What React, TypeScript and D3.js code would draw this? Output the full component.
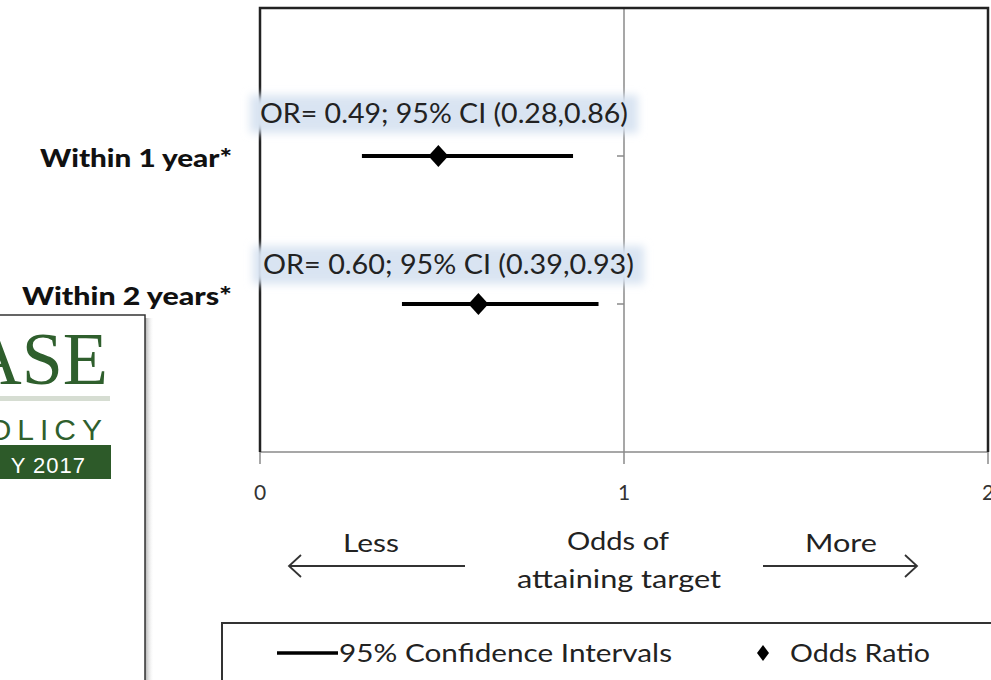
import React from "react";
import * as d3 from "d3";

// Forest plot: odds of attaining target
const categories = ["Within 1 year*", "Within 2 years*"];
const rowPos = [2, 1];
const oddsRatio = [0.49, 0.6];
const ciLower = [0.28, 0.39];
const ciUpper = [0.86, 0.93];
const xTicks = [0, 1, 2];
const yTicks = [1, 2, 3];

const W = 991;
const H = 680;
const FONT = "Lato, 'Open Sans', sans-serif";

export default function App() {
  const x = d3.scaleLinear().domain([0, 2]).range([260, 988]);
  const y = d3.scaleLinear().domain([0, 3]).range([452, 8]);
  const diamond = (cx: number, cy: number, hw: number, hh: number) =>
    `M${cx},${cy - hh}L${cx + hw},${cy}L${cx},${cy + hh}L${cx - hw},${cy}Z`;
  const labelWidths = [368, 371];
  const catWidths = [192, 210];

  return (
    <svg
      width={W}
      height={H}
      style={{ position: "absolute", left: 0, top: 0, background: "#fff" }}
      fontFamily={FONT}
    >
      <defs>
        <filter id="glow" x="-20%" y="-50%" width="140%" height="200%">
          <feGaussianBlur stdDeviation="4" />
        </filter>
        <linearGradient id="shadow" x1="0" x2="1" y1="0" y2="0">
          <stop offset="0" stopColor="#888" stopOpacity="0.7" />
          <stop offset="1" stopColor="#fff" stopOpacity="0" />
        </linearGradient>
      </defs>

      {/* plot frame */}
      <line x1={x(1)} x2={x(1)} y1={y(3)} y2={y(0)} stroke="#8a8a8a" strokeWidth={1.5} />
      {yTicks.map((t) => (
        <line key={t} x1={x(1) - 7} x2={x(1)} y1={y(t)} y2={y(t)} stroke="#8a8a8a" strokeWidth={1.5} />
      ))}
      <line x1={x(0)} x2={x(2)} y1={y(0)} y2={y(0)} stroke="#8a8a8a" strokeWidth={1.5} />
      {xTicks.map((t) => (
        <line key={t} x1={x(t)} x2={x(t)} y1={y(0)} y2={y(0) + 12} stroke="#8a8a8a" strokeWidth={1.5} />
      ))}
      <path
        d={`M${x(0)},${y(0)}V${y(3)}H${x(2)}V${y(0)}`}
        fill="none"
        stroke="#222"
        strokeWidth={2.5}
      />
      {xTicks.map((t) => (
        <text key={t} x={x(t)} y={500} fontSize={21} fill="#333" textAnchor="middle">
          {t}
        </text>
      ))}

      {/* category labels */}
      {categories.map((c, i) => (
        <text
          key={c}
          x={232 - catWidths[i]}
          y={y(rowPos[i]) + (i === 0 ? 11 : 1)}
          fontSize={25}
          fontWeight={900}
          fill="#111"
          textLength={catWidths[i]}
          lengthAdjust="spacingAndGlyphs"
        >
          {c}
        </text>
      ))}

      {/* value annotations */}
      {categories.map((c, i) => {
        const cy = y(rowPos[i]) - (i === 0 ? 42 : 39);
        const x0 = x(0) + (i === 0 ? 0 : 3);
        const txt = `OR= ${oddsRatio[i].toFixed(2)};  95% CI (${ciLower[i].toFixed(2)},${ciUpper[i].toFixed(2)})`;
        return (
          <g key={c}>
            <rect
              x={x0 - 10}
              y={cy - 19}
              width={labelWidths[i] + 20}
              height={38}
              fill="#d9e4f2"
              filter="url(#glow)"
            />
            <text
              x={x0}
              y={cy + 9}
              fontSize={26}
              fill="#222"
              textLength={labelWidths[i]}
              lengthAdjust="spacingAndGlyphs"
            >
              {txt}
            </text>
          </g>
        );
      })}

      {/* confidence intervals and odds ratios */}
      {categories.map((c, i) => (
        <g key={c}>
          <line
            x1={x(ciLower[i])}
            x2={x(ciUpper[i])}
            y1={y(rowPos[i])}
            y2={y(rowPos[i])}
            stroke="#000"
            strokeWidth={4}
          />
          <path d={diamond(x(oddsRatio[i]), y(rowPos[i]), 10, 11)} fill="#000" />
        </g>
      ))}

      {/* direction annotation */}
      <text x={371} y={552} fontSize={25} fill="#222" textAnchor="middle" textLength={56} lengthAdjust="spacingAndGlyphs">
        Less
      </text>
      <text x={618} y={550} fontSize={25} fill="#222" textAnchor="middle" textLength={102} lengthAdjust="spacingAndGlyphs">
        Odds of
      </text>
      <text x={619} y={588} fontSize={25} fill="#222" textAnchor="middle" textLength={204} lengthAdjust="spacingAndGlyphs">
        attaining target
      </text>
      <text x={841} y={552} fontSize={25} fill="#222" textAnchor="middle" textLength={72} lengthAdjust="spacingAndGlyphs">
        More
      </text>
      <g stroke="#333" strokeWidth={1.8} fill="none">
        <line x1={465} x2={289} y1={566} y2={566} />
        <path d="M301,555L289,566L301,577" />
        <line x1={763} x2={917} y1={566} y2={566} />
        <path d="M905,555L917,566L905,577" />
      </g>

      {/* legend */}
      <rect x={222} y={623} width={780} height={70} fill="#fff" stroke="#333" strokeWidth={2} />
      <line x1={277} x2={338} y1={653} y2={653} stroke="#000" strokeWidth={3.5} />
      <text x={339} y={662} fontSize={25} fill="#222" textLength={333} lengthAdjust="spacingAndGlyphs">
        95% Confidence Intervals
      </text>
      <path d={diamond(763, 653, 6, 8)} fill="#000" />
      <text x={790} y={662} fontSize={25} fill="#222" textLength={140} lengthAdjust="spacingAndGlyphs">
        Odds Ratio
      </text>

      {/* overlapping slide panel */}
      <rect x={145} y={318} width={9} height={380} fill="url(#shadow)" />
      <rect x={-5} y={315} width={150} height={380} fill="#fff" stroke="#333" strokeWidth={1.5} />
      <text x={108} y={384} fontSize={74} fill="#2f5f2d" textAnchor="end" fontFamily="'Liberation Serif', 'DejaVu Serif', serif">
        ASE
      </text>
      <rect x={-5} y={396} width={115} height={5} fill="#d6ddd2" />
      <text x={108} y={440} fontSize={30} fill="#2f5f2d" textAnchor="end" letterSpacing={6} fontFamily="'Liberation Sans', sans-serif">
        OLICY
      </text>
      <rect x={-5} y={445} width={116} height={34} fill="#2d5a29" />
      <text x={86} y={473} fontSize={22} fill="#fff" textAnchor="end" letterSpacing={1} fontFamily="'Liberation Sans', sans-serif">
        Y 2017
      </text>
    </svg>
  );
}
